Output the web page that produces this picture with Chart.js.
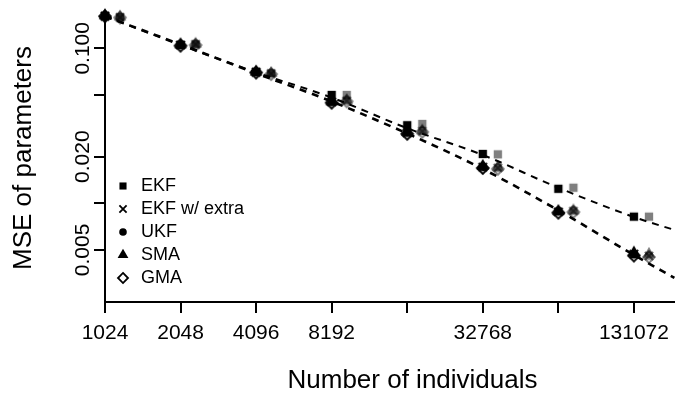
<!DOCTYPE html>
<html>
<head>
<meta charset="utf-8">
<script src="https://cdn.jsdelivr.net/npm/chart.js@4.4.1/dist/chart.umd.min.js"></script>
<style>
  html, body { margin: 0; padding: 0; background: #fff; overflow: hidden; }
  #frame { width: 675px; height: 393px; overflow: hidden; position: relative; }
  #plot { display: block; }
</style>
</head>
<body>
<div id="frame"><canvas id="plot" width="727" height="393"></canvas></div>
<script>
// Sample sizes (number of individuals)
const individuals = [1024, 2048, 4096, 8192, 16384, 32768, 65536, 131072];

// Axis ticks
const xTickValues = [1024, 2048, 4096, 8192, 16384, 32768, 65536, 131072];
const xTickLabels = ['1024', '2048', '4096', '8192', '', '32768', '', '131072'];
const yTickValues = [0.1, 0.05, 0.02, 0.01, 0.005];
const yTickLabels = ['0.100', '', '0.020', '', '0.005'];

// Method names
const methods = ['EKF', 'EKF w/ extra', 'UKF', 'SMA', 'GMA'];

// MSE of parameters, first setting (black)
const ekfFirst      = [0.162, 0.105, 0.0705, 0.0500, 0.0319, 0.0208, 0.0124, 0.0082];
const ekfExtraFirst = [0.161, 0.105, 0.0700, 0.0450, 0.0284, 0.0171, 0.0088, 0.0047];
const ukfFirst      = [0.162, 0.106, 0.0703, 0.0452, 0.0286, 0.0172, 0.0089, 0.0047];
const smaFirst      = [0.163, 0.106, 0.0706, 0.0455, 0.0288, 0.0174, 0.0089, 0.0048];
const gmaFirst      = [0.161, 0.104, 0.0698, 0.0446, 0.0281, 0.0169, 0.0087, 0.0046];

// MSE of parameters, second setting (grey)
const ekfSecond      = [0.159, 0.106, 0.0690, 0.0500, 0.0325, 0.0207, 0.0126, 0.0082];
const ekfExtraSecond = [0.158, 0.106, 0.0685, 0.0458, 0.0291, 0.0169, 0.0089, 0.00457];
const ukfSecond      = [0.159, 0.107, 0.0690, 0.0460, 0.0293, 0.0170, 0.0090, 0.0046];
const smaSecond      = [0.160, 0.107, 0.0693, 0.0463, 0.0295, 0.0171, 0.0090, 0.0047];
const gmaSecond      = [0.158, 0.105, 0.0682, 0.0455, 0.0289, 0.0167, 0.0088, 0.0045];

// Smoothed trends (EKF, and the remaining filters), last value at the right edge
const trendN     = [1024, 2048, 4096, 8192, 16384, 32768, 65536, 131072, 190000];
const ekfTrend   = [0.161, 0.105, 0.0700, 0.0481, 0.0305, 0.0205, 0.0126, 0.00815, 0.00673];
const otherTrend = [0.161, 0.106, 0.0690, 0.0454, 0.0282, 0.01665, 0.0090, 0.00464, 0.0033];

const FONT = 'Liberation Sans, Arial, Helvetica, sans-serif';

// Marker glyphs drawn as small canvases (R-style pch 15, 4, 16, 17, 5)
function glyph(shape, color, r, lw, dx) {
  dx = dx || 0;
  const s = 2 * Math.ceil(1.7 * r + lw + 2 + Math.abs(dx));
  const c = document.createElement('canvas');
  c.width = s; c.height = s;
  const g = c.getContext('2d');
  const mx = s / 2 + dx, my = s / 2;
  g.fillStyle = color; g.strokeStyle = color; g.lineWidth = lw; g.lineCap = 'butt';
  if (shape === 'square') {
    const h = r * 0.886;
    g.fillRect(mx - h, my - h, 2 * h, 2 * h);
  } else if (shape === 'cross') {
    const h = r * 0.9;
    g.beginPath();
    g.moveTo(mx - h, my - h); g.lineTo(mx + h, my + h);
    g.moveTo(mx - h, my + h); g.lineTo(mx + h, my - h);
    g.stroke();
  } else if (shape === 'circle') {
    g.beginPath(); g.arc(mx, my, r * 0.95, 0, Math.PI * 2); g.fill();
  } else if (shape === 'triangle') {
    g.beginPath();
    g.moveTo(mx, my - 1.555 * r);
    g.lineTo(mx + 1.347 * r, my + 0.778 * r);
    g.lineTo(mx - 1.347 * r, my + 0.778 * r);
    g.closePath(); g.fill();
  } else if (shape === 'diamond') {
    const d = r * 1.253;
    g.beginPath();
    g.moveTo(mx, my - d); g.lineTo(mx + d, my); g.lineTo(mx, my + d); g.lineTo(mx - d, my);
    g.closePath(); g.stroke();
  }
  return c;
}

const shapes = ['square', 'cross', 'circle', 'triangle', 'diamond'];
const firstSeries = [ekfFirst, ekfExtraFirst, ukfFirst, smaFirst, gmaFirst];
const secondSeries = [ekfSecond, ekfExtraSecond, ukfSecond, smaSecond, gmaSecond];

const BLACK = '#000000';
const GREY = 'rgba(0,0,0,0.5)';
const SHIFT = 1.148; // grey points are nudged to the right of each sample size

const datasets = [];

// trend lines first so they are painted over the points
datasets.push({
  label: 'EKF trend', type: 'line', data: trendN.map((n, i) => ({ x: n, y: ekfTrend[i] })),
  borderColor: BLACK, borderWidth: 2, borderDash: [7, 6], pointRadius: 0,
  cubicInterpolationMode: 'monotone', fill: false
});
datasets.push({
  label: 'Filter trend', type: 'line', data: trendN.map((n, i) => ({ x: n, y: otherTrend[i] })),
  borderColor: BLACK, borderWidth: 2.6, borderDash: [7, 6], pointRadius: 0,
  cubicInterpolationMode: 'monotone', fill: false
});

methods.forEach((m, k) => {
  datasets.push({
    label: m, type: 'scatter', clip: false,
    data: individuals.map((n, i) => ({ x: n, y: firstSeries[k][i] })),
    pointStyle: glyph(shapes[k], BLACK, 4.7, 1.8), showLine: false
  });
});
methods.forEach((m, k) => {
  datasets.push({
    label: m + ' (2)', type: 'scatter', clip: false,
    data: individuals.map((n, i) => ({ x: n * SHIFT, y: secondSeries[k][i] })),
    pointStyle: glyph(shapes[k], GREY, 4.7, 1.8), showLine: false
  });
});

const legendGlyphs = shapes.map(s => glyph(s, BLACK, 4.0, 1.8, 2));

const axisCommon = {
  grid: { drawOnChartArea: false, color: BLACK, lineWidth: 2, tickLength: 11, tickWidth: 2, tickColor: BLACK },
  border: { display: true, color: BLACK, width: 2 }
};

// keep the legend block in the lower-left corner of the plotting area
const legendPlacement = {
  id: 'legendPlacement',
  afterLayout(chart) {
    const lg = chart.legend;
    if (!lg) return;
    const h = lg.bottom - lg.top;
    lg.bottom = Math.round(chart.chartArea.bottom) - 10;
    lg.top = lg.bottom - h;
  }
};

new Chart(document.getElementById('plot'), {
  type: 'scatter',
  data: { datasets },
  plugins: [legendPlacement],
  options: {
    responsive: false,
    animation: false,
    devicePixelRatio: 1,
    layout: { padding: { top: 14, right: 0, bottom: 0, left: 0 } },
    elements: { point: { radius: 6, hoverRadius: 6 } },
    scales: {
      x: {
        type: 'logarithmic', position: 'bottom',
        min: 1024, max: 288700,
        ...axisCommon,
        afterBuildTicks: s => { s.ticks = xTickValues.map(v => ({ value: v })); },
        afterFit: s => { s.height = 91; s.paddingLeft = 0; s.paddingRight = 0; },
        ticks: {
          autoSkip: false, maxRotation: 0, minRotation: 0, padding: 8, color: BLACK,
          font: { family: FONT, size: 21 },
          callback: (v, i) => xTickLabels[i]
        },
        title: {
          display: true, text: 'Number of individuals', color: BLACK,
          font: { family: FONT, size: 26 }, padding: { top: 0, bottom: -3.5 }
        }
      },
      y: {
        type: 'logarithmic', position: 'left',
        min: 0.002307, max: 0.1665,
        ...axisCommon,
        afterBuildTicks: s => { s.ticks = yTickValues.map(v => ({ value: v })); },
        afterFit: s => { s.width = 105; s.paddingTop = 0; s.paddingBottom = 0; },
        ticks: {
          autoSkip: false, minRotation: 90, maxRotation: 90, crossAlign: 'center', padding: -15.3, color: BLACK,
          font: { family: FONT, size: 21 },
          callback: (v, i) => yTickLabels[i]
        },
        title: {
          display: true, text: 'MSE of parameters', color: BLACK,
          font: { family: FONT, size: 26 }, padding: { top: 8, bottom: 0 }
        }
      }
    },
    plugins: {
      tooltip: { enabled: false },
      legend: {
        position: 'chartArea', align: 'end',
        labels: {
          usePointStyle: true, pointStyleWidth: 22, padding: 5, color: BLACK,
          font: { family: FONT, size: 18 },
          generateLabels: () => methods.map((m, k) => ({
            text: m, pointStyle: legendGlyphs[k], fillStyle: BLACK, strokeStyle: BLACK,
            lineWidth: 0, hidden: false, datasetIndex: 2 + k, fontColor: BLACK
          }))
        }
      }
    }
  }
});
</script>
</body>
</html>
